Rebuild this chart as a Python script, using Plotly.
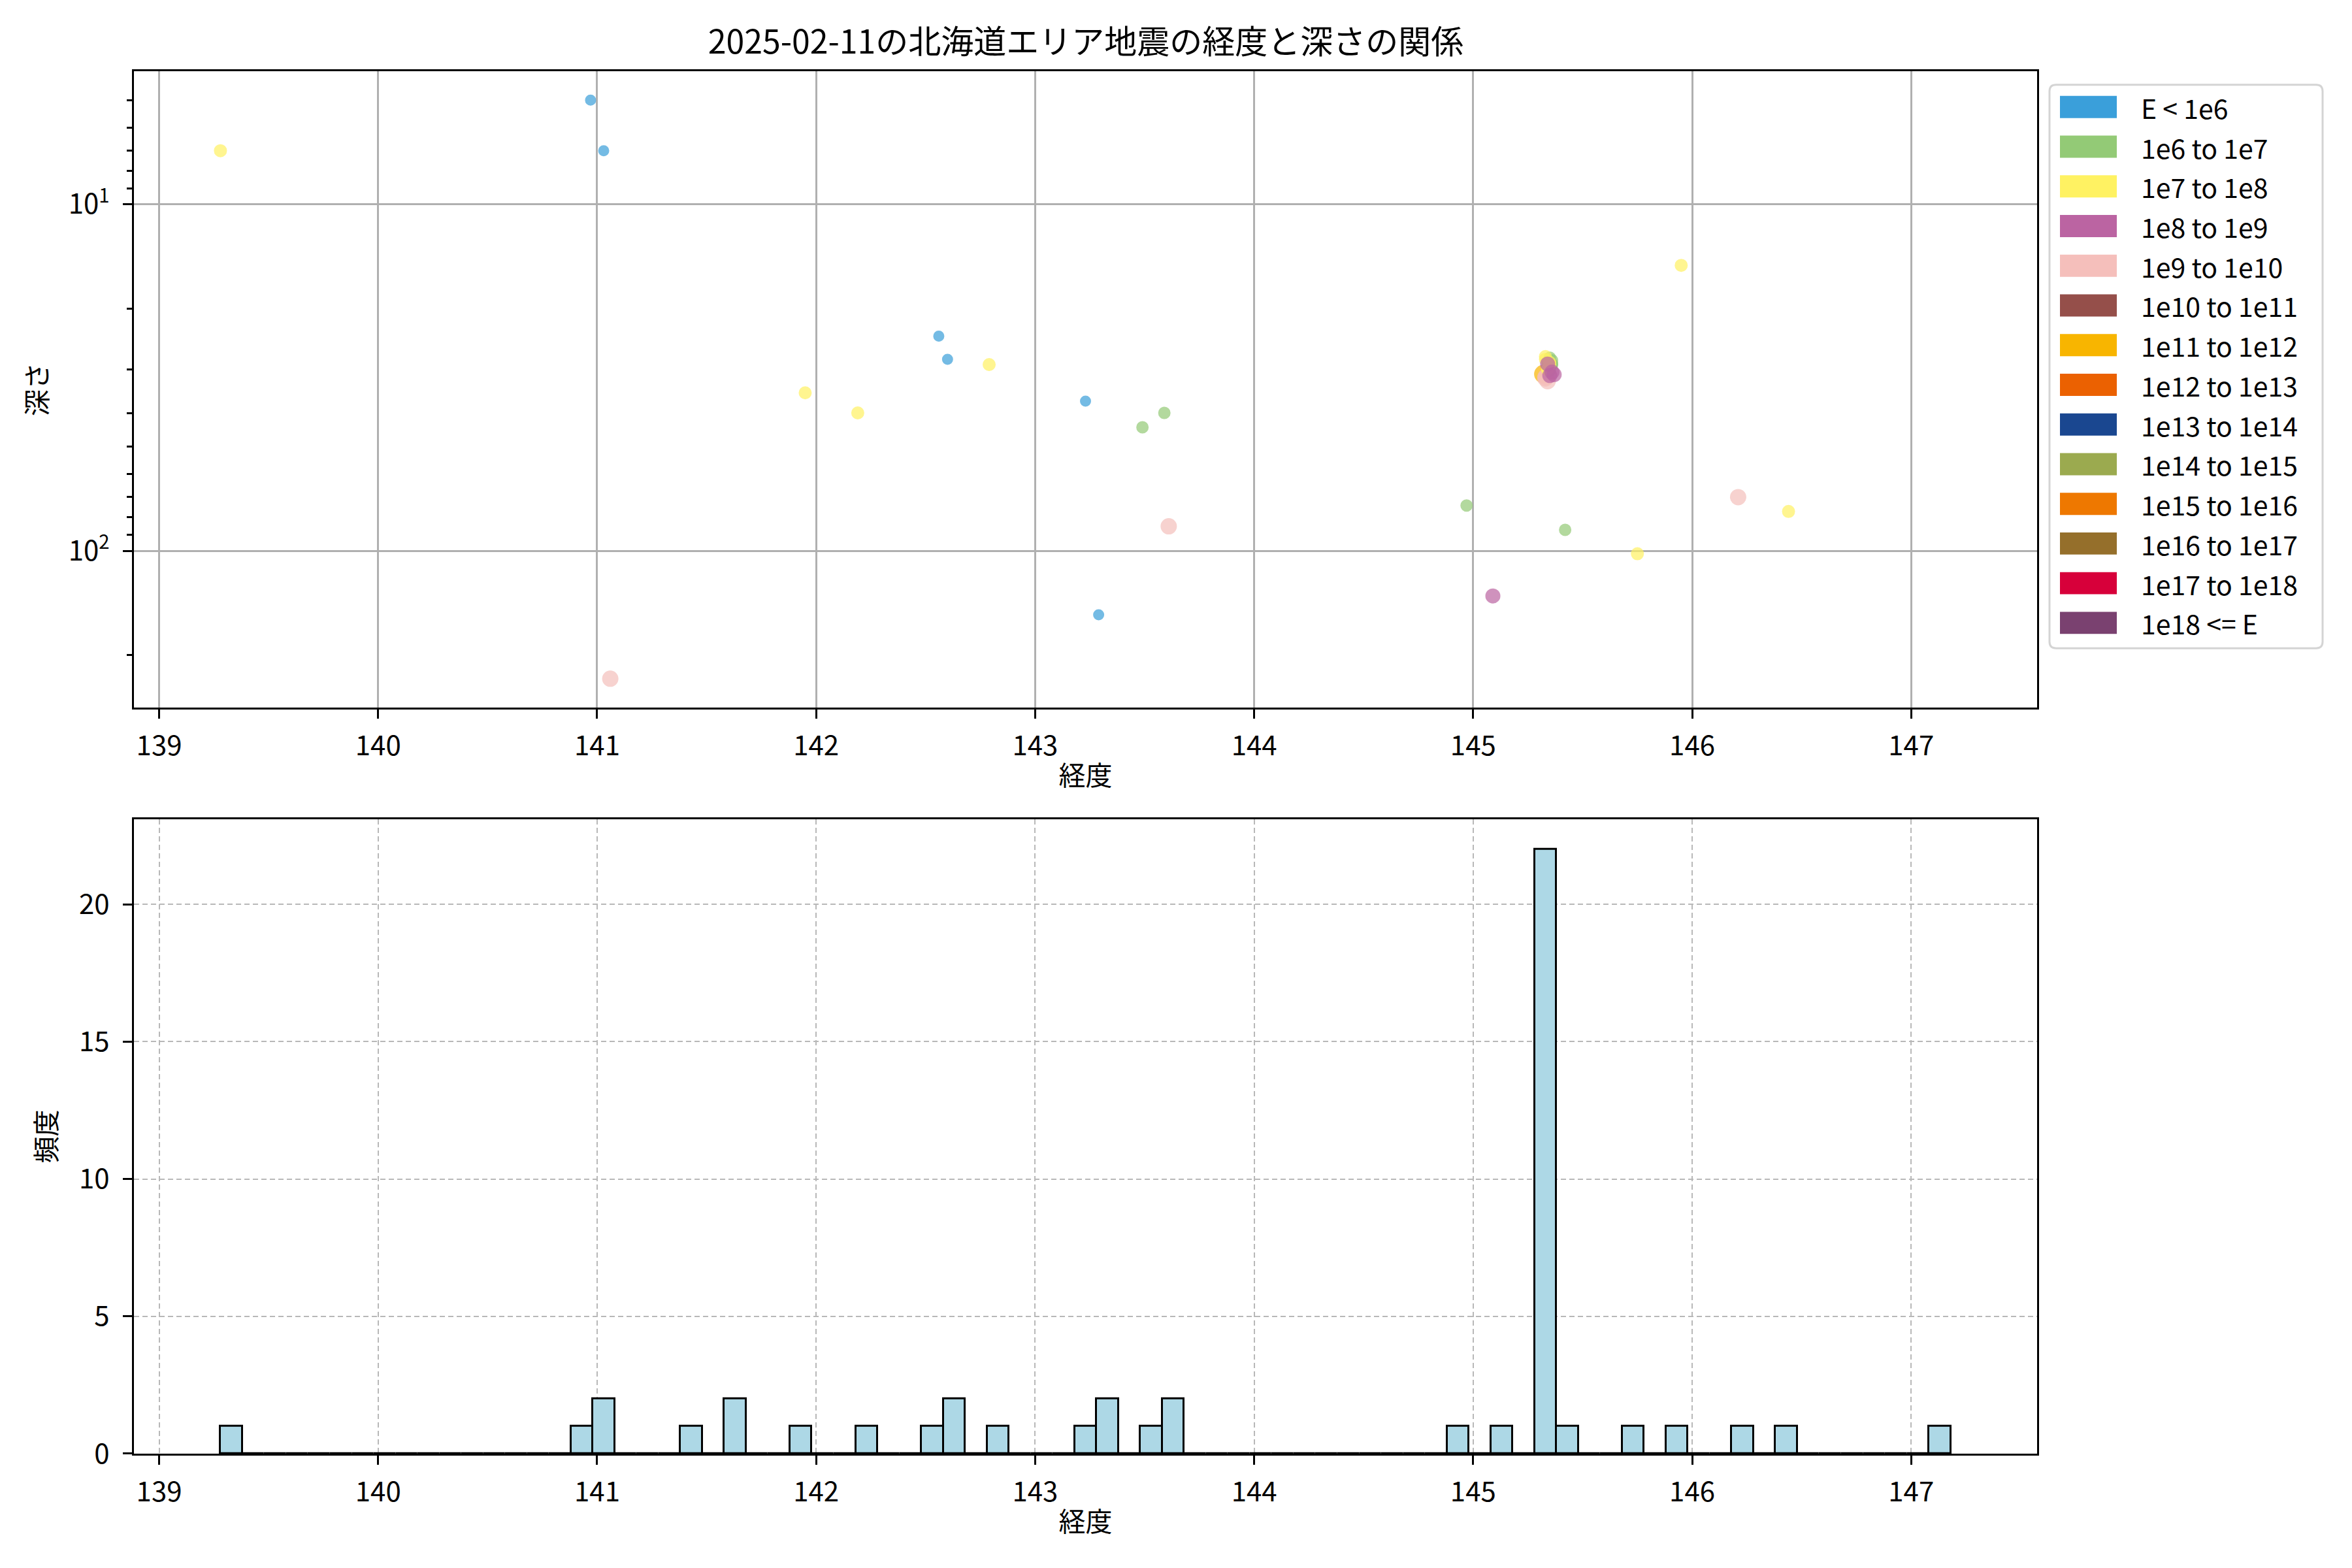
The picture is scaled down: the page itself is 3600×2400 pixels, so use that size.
import numpy as np
import plotly.graph_objects as go

# ---------------- data ----------------
title_text = "2025-02-11の北海道エリア地震の経度と深さの関係"
x_label = "経度"
y_label_top = "深さ"
y_label_bottom = "頻度"

energy_labels = ["E < 1e6", "1e6 to 1e7", "1e7 to 1e8", "1e8 to 1e9", "1e9 to 1e10",
                 "1e10 to 1e11", "1e11 to 1e12", "1e12 to 1e13", "1e13 to 1e14",
                 "1e14 to 1e15", "1e15 to 1e16", "1e16 to 1e17", "1e17 to 1e18", "1e18 <= E"]
energy_colors = ["#3A9FDA", "#93CA76", "#FFF262", "#BB64A2", "#F5BFBB",
                 "#954F4A", "#F8B500", "#EB6101", "#1A4790", "#9BAA4F",
                 "#EE7800", "#956F2B", "#D7003A", "#7A4170"]

# events outside the swarm (depth 0 = not drawable on the log axis)
lon_main = [139.28, 140.97, 141.03, 141.06, 141.43, 141.62, 141.65, 141.95, 142.19,
            142.56, 142.60, 142.64, 142.79, 143.23, 143.29, 143.33, 143.49, 143.59,
            143.61, 144.97, 145.09, 145.42, 145.75, 145.95, 146.21, 146.44, 147.18]
depth_main = [7.0, 5.0, 7.0, 234, 0, 0, 0, 35, 40,
              24, 28, 0, 29, 37, 153, 0, 44, 40,
              85, 74, 135, 87, 102, 15, 70, 77, 0]
class_main = [2, 0, 0, 4, 1, 1, 1, 2, 2,
              0, 0, 1, 2, 0, 0, 1, 1, 1,
              4, 1, 3, 1, 2, 2, 4, 2, 1]

# swarm near 145.35E
lon_swarm = [145.33, 145.35, 145.36, 145.34, 145.35, 145.34, 145.35, 145.33, 145.36, 145.34, 145.35,
             145.36, 145.37, 145.32, 145.34, 145.33, 145.35, 145.34, 145.35, 145.33, 145.36, 145.34]
depth_swarm = [27.5, 27.7, 28.9, 28.9, 28.9, 28.4, 29.5, 28.0, 28.2, 29.8, 30.2,
               30.5, 31.0, 30.9, 32.4, 31.5, 31.2, 29.2, 28.6, 31.8, 29.0, 30.0]
class_swarm = [2, 1, 1, 3, 2, 1, 1, 2, 1, 2, 1,
               3, 3, 6, 4, 4, 3, 1, 2, 4, 1, 2]

hist_bins = 79

lon_all = np.array(lon_main + lon_swarm, dtype=float)
depth_all = np.array(depth_main + depth_swarm, dtype=float)
class_all = np.array(class_main + class_swarm)

# ---------------- geometry helpers ----------------
# the page body keeps an 8px margin, so the figure is sized to fit inside it
PAGE_W, PAGE_H, BODY = 3600, 2400, 8
W, H = PAGE_W - 2 * BODY, PAGE_H - 2 * BODY
YS = 0.9905  # observed vertical compression of the captured page
def px(x):
    return (x - BODY) / W
def py(y):
    return 1 - (y / YS - BODY) / H

marker_sizes = [15, 17, 18, 21, 23, 25, 26, 29, 31, 33, 35, 37, 39, 41]
draw_order = [6, 5, 7, 8, 9, 10, 11, 12, 13, 4, 0, 1, 2, 3]
FONT = "Noto Sans CJK JP, Noto Sans, sans-serif"

fig = go.Figure()

# scatter: one trace per energy class present
for i in draw_order:
    m = (class_all == i) & (depth_all > 0)
    if not m.any():
        continue
    fig.add_trace(go.Scatter(
        x=lon_all[m], y=depth_all[m], mode="markers", name=energy_labels[i],
        xaxis="x", yaxis="y", showlegend=False,
        marker=dict(color=energy_colors[i], size=marker_sizes[i], opacity=0.7,
                    line=dict(color=energy_colors[i], width=2)),
    ))

# histogram (matplotlib-style equal-width bins over data range)
counts, edges = np.histogram(lon_all, bins=hist_bins)
centers = (edges[:-1] + edges[1:]) / 2
widths = np.diff(edges)
fig.add_trace(go.Bar(
    x=centers, y=counts, width=widths, xaxis="x2", yaxis="y2", showlegend=False,
    marker=dict(color="#ADD8E6", line=dict(color="black", width=3)),
))

# axis ranges (5% margins like matplotlib)
lo, hi = lon_all.min(), lon_all.max()
xr = [lo - 0.05 * (hi - lo), hi + 0.05 * (hi - lo)]
dpos = depth_all[depth_all > 0]
l0, l1 = np.log10(dpos.min()), np.log10(dpos.max())
yr_top = [l1 + 0.05 * (l1 - l0), l0 - 0.05 * (l1 - l0)]
yr_bot = [0, counts.max() * 1.05]

dom_x = [px(205), px(3118)]
tick_font = dict(family=FONT, size=42, color="black")
axis_common = dict(showline=True, linecolor="black", linewidth=3, mirror=True,
                   ticks="outside", ticklen=14, tickwidth=3, tickcolor="black",
                   zeroline=False, tickfont=tick_font)

minor_vals = [5, 6, 7, 8, 9, 20, 30, 40, 50, 60, 70, 80, 90, 200]

fig.update_layout(
    width=W, height=H, paper_bgcolor="white", plot_bgcolor="white",
    margin=dict(l=0, r=0, t=0, b=0),
    font=dict(family=FONT, size=41, color="black"),
    title=dict(text=title_text, x=px(1662), xanchor="center", y=py(64), yanchor="middle",
               font=dict(family=FONT, size=50, color="black")),
    xaxis=dict(domain=dom_x, anchor="y", range=xr, tickvals=list(range(139, 148)),
               showgrid=True, gridcolor="#b0b0b0", gridwidth=3, ticklabelstandoff=6,
               title=dict(text=x_label, font=dict(size=41), standoff=6), **axis_common),
    yaxis=dict(domain=[py(1085), py(109)], anchor="x", type="log", range=yr_top,
               tickvals=[10, 100], ticktext=["10<sup>1</sup>", "10<sup>2</sup>"],
               showgrid=True, gridcolor="#b0b0b0", gridwidth=3, ticklabelstandoff=12,
               minor=dict(tickmode="array", tickvals=minor_vals, ticks="outside",
                          ticklen=8, tickwidth=2.5, tickcolor="black", showgrid=False),
               title=dict(text=y_label_top, font=dict(size=41), standoff=20), **axis_common),
    xaxis2=dict(domain=dom_x, anchor="y2", range=xr, tickvals=list(range(139, 148)),
                showgrid=True, gridcolor="#b8b8b8", gridwidth=2, griddash="8px,5px",
                ticklabelstandoff=6,
                title=dict(text=x_label, font=dict(size=41), standoff=6), **axis_common),
    yaxis2=dict(domain=[py(2229), py(1256)], anchor="x2", range=yr_bot,
                tickvals=[0, 5, 10, 15, 20], ticklabelstandoff=12,
                showgrid=True, gridcolor="#b8b8b8", gridwidth=2, griddash="8px,5px",
                title=dict(text=y_label_bottom, font=dict(size=41), standoff=22), **axis_common),
    bargap=0,
)

# ---------------- legend (matplotlib-style patches) ----------------
bx0, bx1, by0, by1, r = 3137, 3555, 130, 994, 10
rx, ry = r / W, r / H
path = (f"M {px(bx0)+rx},{py(by0)} L {px(bx1)-rx},{py(by0)} Q {px(bx1)},{py(by0)} {px(bx1)},{py(by0)-ry} "
        f"L {px(bx1)},{py(by1)+ry} Q {px(bx1)},{py(by1)} {px(bx1)-rx},{py(by1)} "
        f"L {px(bx0)+rx},{py(by1)} Q {px(bx0)},{py(by1)} {px(bx0)},{py(by1)+ry} "
        f"L {px(bx0)},{py(by0)-ry} Q {px(bx0)},{py(by0)} {px(bx0)+rx},{py(by0)} Z")
fig.add_shape(type="path", path=path, xref="paper", yref="paper",
              line=dict(color="#d4d4d4", width=3), fillcolor="rgba(255,255,255,0.8)")

row0, step = 164.0, 60.85
for i, lab in enumerate(energy_labels):
    cy = row0 + i * step
    fig.add_shape(type="rect", xref="paper", yref="paper",
                  x0=px(3153), x1=px(3240), y0=py(cy - 17), y1=py(cy + 17),
                  fillcolor=energy_colors[i], line=dict(width=0))
    fig.add_annotation(text=lab, xref="paper", yref="paper", x=px(3275), y=py(cy),
                       xanchor="left", yanchor="middle", showarrow=False,
                       font=dict(family=FONT, size=41, color="black"))

fig.write_html("out.html")
